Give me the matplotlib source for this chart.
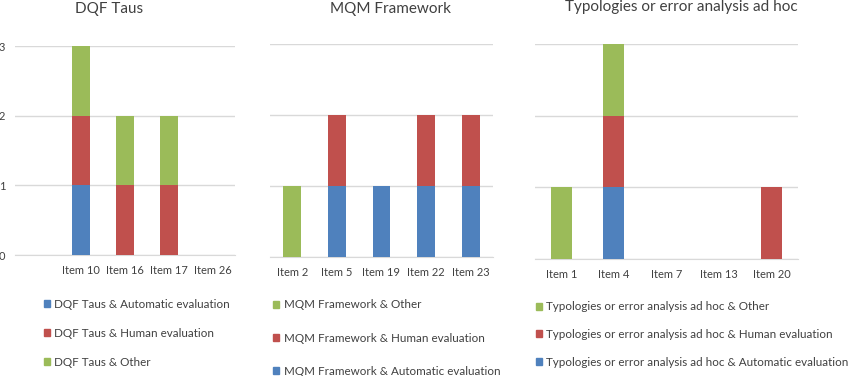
import matplotlib
matplotlib.use("Agg")
import matplotlib.pyplot as plt
from matplotlib.patches import Patch

plt.rcParams["font.family"] = ["Lato", "DejaVu Sans"]

BLUE = "#4F81BD"
RED = "#C0504D"
GREEN = "#9BBB59"
GRID = "#D9D9D9"
TEXT = "#404040"

# DQF Taus panel (first category has no label)
dqf_items = ["", "Item 10", "Item 16", "Item 17", "Item 26"]
dqf_auto = [0, 1, 0, 0, 0]
dqf_human = [0, 1, 1, 1, 0]
dqf_other = [0, 1, 1, 1, 0]

# MQM Framework panel
mqm_items = ["Item 2", "Item 5", "Item 19", "Item 22", "Item 23"]
mqm_auto = [0, 1, 1, 1, 1]
mqm_human = [0, 1, 0, 1, 1]
mqm_other = [1, 0, 0, 0, 0]

# Typologies panel
typ_items = ["Item 1", "Item 4", "Item 7", "Item 13", "Item 20"]
typ_auto = [0, 1, 0, 0, 0]
typ_human = [0, 1, 0, 0, 1]
typ_other = [1, 1, 0, 0, 0]

W, H = 850, 376
fig = plt.figure(figsize=(W / 100, H / 100), dpi=100)


def px_axes(x0, x1, y_top, y_zero):
    return fig.add_axes([x0 / W, (H - y_zero) / H, (x1 - x0) / W, (y_zero - y_top) / H])


def draw_panel(ax, items, auto, human, other, show_y):
    x = list(range(len(items)))
    ax.bar(x, auto, width=0.4, color=BLUE, zorder=3)
    ax.bar(x, human, width=0.4, bottom=auto, color=RED, zorder=3)
    base = [a + h for a, h in zip(auto, human)]
    ax.bar(x, other, width=0.4, bottom=base, color=GREEN, zorder=3)
    ax.set_xlim(-0.5, len(items) - 0.5)
    ax.set_ylim(0, 3)
    ax.set_yticks([0, 1, 2, 3])
    ax.yaxis.grid(True, color=GRID, linewidth=1.0, zorder=0)
    ax.set_xticks(x)
    ax.set_xticklabels(items, fontsize=8, color=TEXT)
    ax.tick_params(axis="x", length=0, pad=7)
    ax.tick_params(axis="y", length=0, pad=7, labelsize=8, labelcolor=TEXT)
    if not show_y:
        ax.set_yticklabels([])
    for s in ["top", "right", "left"]:
        ax.spines[s].set_visible(False)
    ax.spines["bottom"].set_color(GRID)
    ax.set_facecolor("none")


ax1 = px_axes(15, 235, 46, 255)
draw_panel(ax1, dqf_items, dqf_auto, dqf_human, dqf_other, True)
ax2 = px_axes(270, 493, 44, 257)
draw_panel(ax2, mqm_items, mqm_auto, mqm_human, mqm_other, False)
ax3 = px_axes(535, 798, 44, 259)
draw_panel(ax3, typ_items, typ_auto, typ_human, typ_other, False)

fig.text(109 / W, 1 - 12.5 / H, "DQF Taus", ha="center", va="baseline", fontsize=11, color=TEXT)
fig.text(391 / W, 1 - 13.5 / H, "MQM Framework", ha="center", va="baseline", fontsize=11, color=TEXT)
fig.text(681 / W, 1 - 11 / H, "Typologies or error analysis ad hoc", ha="center", va="baseline",
         fontsize=11, color=TEXT)


def add_legend(ax, name, order, x_left, y_top, spacing):
    colors = {"Automatic evaluation": BLUE, "Human evaluation": RED, "Other": GREEN}
    handles = [Patch(color=colors[k], label=f"{name} & {k}") for k in order]
    leg = ax.legend(handles=handles, loc="upper left", bbox_to_anchor=(x_left / W, 1 - y_top / H),
                    bbox_transform=fig.transFigure, frameon=False, fontsize=8.4,
                    handlelength=0.55, handleheight=0.55, handletextpad=0.35,
                    labelspacing=spacing, borderaxespad=0, borderpad=0)
    for t in leg.get_texts():
        t.set_color(TEXT)


add_legend(ax1, "DQF Taus", ["Automatic evaluation", "Human evaluation", "Other"], 44, 298.5, 1.55)
add_legend(ax2, "MQM Framework", ["Other", "Human evaluation", "Automatic evaluation"], 273, 299.5, 1.89)
add_legend(ax3, "Typologies or error analysis ad hoc", ["Other", "Human evaluation", "Automatic evaluation"],
           536, 301.5, 1.42)

fig.savefig("out.png", dpi=100)
